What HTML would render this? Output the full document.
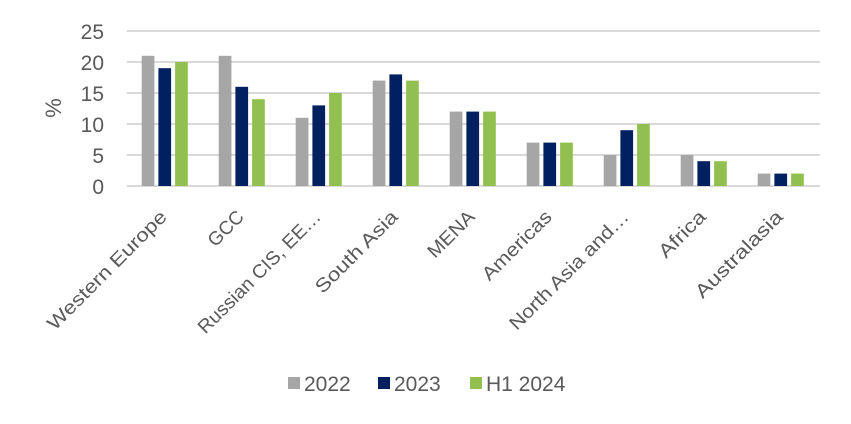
<!DOCTYPE html>
<html><head><style>body{margin:0;background:#fff}svg{display:block}</style></head><body>
<svg width="851" height="424" xmlns="http://www.w3.org/2000/svg" font-family="Liberation Sans, Arial, sans-serif">
<g stroke="#d9d9d9" stroke-width="2">
<line x1="126.7" x2="820" y1="31" y2="31"/><line x1="126.7" x2="820" y1="62" y2="62"/>
<line x1="126.7" x2="820" y1="93" y2="93"/><line x1="126.7" x2="820" y1="124" y2="124"/>
<line x1="126.7" x2="820" y1="155" y2="155"/><line x1="126.7" x2="820" y1="186" y2="186"/>
</g>
<g fill="#595959" font-size="21" text-anchor="end">
<text x="104" y="39">25</text><text x="104" y="70">20</text><text x="104" y="101">15</text>
<text x="104" y="132">10</text><text x="104" y="163">5</text><text x="104" y="194">0</text>
</g>
<text transform="translate(61,108) rotate(-90)" fill="#595959" font-size="22" text-anchor="middle">%</text>
<g>
<rect x="141.7" y="55.8" width="12.7" height="130.2" fill="#a6a6a6"/><rect x="158.4" y="68.2" width="12.7" height="117.8" fill="#002060"/><rect x="175.1" y="62" width="12.7" height="124" fill="#92c050"/>
<rect x="218.7" y="55.8" width="12.7" height="130.2" fill="#a6a6a6"/><rect x="235.4" y="86.8" width="12.7" height="99.2" fill="#002060"/><rect x="252.1" y="99.2" width="12.7" height="86.8" fill="#92c050"/>
<rect x="295.7" y="117.8" width="12.7" height="68.2" fill="#a6a6a6"/><rect x="312.4" y="105.4" width="12.7" height="80.6" fill="#002060"/><rect x="329.1" y="93" width="12.7" height="93" fill="#92c050"/>
<rect x="372.7" y="80.6" width="12.7" height="105.4" fill="#a6a6a6"/><rect x="389.4" y="74.4" width="12.7" height="111.6" fill="#002060"/><rect x="406.1" y="80.6" width="12.7" height="105.4" fill="#92c050"/>
<rect x="449.7" y="111.6" width="12.7" height="74.4" fill="#a6a6a6"/><rect x="466.4" y="111.6" width="12.7" height="74.4" fill="#002060"/><rect x="483.1" y="111.6" width="12.7" height="74.4" fill="#92c050"/>
<rect x="526.7" y="142.6" width="12.7" height="43.4" fill="#a6a6a6"/><rect x="543.4" y="142.6" width="12.7" height="43.4" fill="#002060"/><rect x="560.1" y="142.6" width="12.7" height="43.4" fill="#92c050"/>
<rect x="603.7" y="155" width="12.7" height="31" fill="#a6a6a6"/><rect x="620.4" y="130.2" width="12.7" height="55.8" fill="#002060"/><rect x="637.1" y="124" width="12.7" height="62" fill="#92c050"/>
<rect x="680.7" y="155" width="12.7" height="31" fill="#a6a6a6"/><rect x="697.4" y="161.2" width="12.7" height="24.8" fill="#002060"/><rect x="714.1" y="161.2" width="12.7" height="24.8" fill="#92c050"/>
<rect x="757.7" y="173.6" width="12.7" height="12.4" fill="#a6a6a6"/><rect x="774.4" y="173.6" width="12.7" height="12.4" fill="#002060"/><rect x="791.1" y="173.6" width="12.7" height="12.4" fill="#92c050"/>
</g>
<g fill="#595959" font-size="19" text-anchor="end">
<text transform="translate(168,218) rotate(-45)" textLength="160" lengthAdjust="spacingAndGlyphs">Western Europe</text>
<text transform="translate(245,218) rotate(-45)" textLength="42" lengthAdjust="spacingAndGlyphs">GCC</text>
<text transform="translate(322,218) rotate(-45)" textLength="165" lengthAdjust="spacingAndGlyphs">Russian CIS, EE…</text>
<text transform="translate(399,218) rotate(-45)" textLength="108" lengthAdjust="spacingAndGlyphs">South Asia</text>
<text transform="translate(476,218) rotate(-45)" textLength="58" lengthAdjust="spacingAndGlyphs">MENA</text>
<text transform="translate(553,218) rotate(-45)" textLength="90" lengthAdjust="spacingAndGlyphs">Americas</text>
<text transform="translate(630,218) rotate(-45)" textLength="160" lengthAdjust="spacingAndGlyphs">North Asia and…</text>
<text transform="translate(707,218) rotate(-45)" textLength="58" lengthAdjust="spacingAndGlyphs">Africa</text>
<text transform="translate(784,218) rotate(-45)" textLength="115" lengthAdjust="spacingAndGlyphs">Australasia</text>
</g>
<rect x="288" y="377" width="12" height="12" fill="#a6a6a6"/><text x="304" y="391" font-size="21" fill="#595959">2022</text>
<rect x="378" y="377" width="12" height="12" fill="#002060"/><text x="394" y="391" font-size="21" fill="#595959">2023</text>
<rect x="470" y="377" width="12" height="12" fill="#92c050"/><text x="486" y="391" font-size="21" fill="#595959">H1 2024</text>
</svg></body></html>
